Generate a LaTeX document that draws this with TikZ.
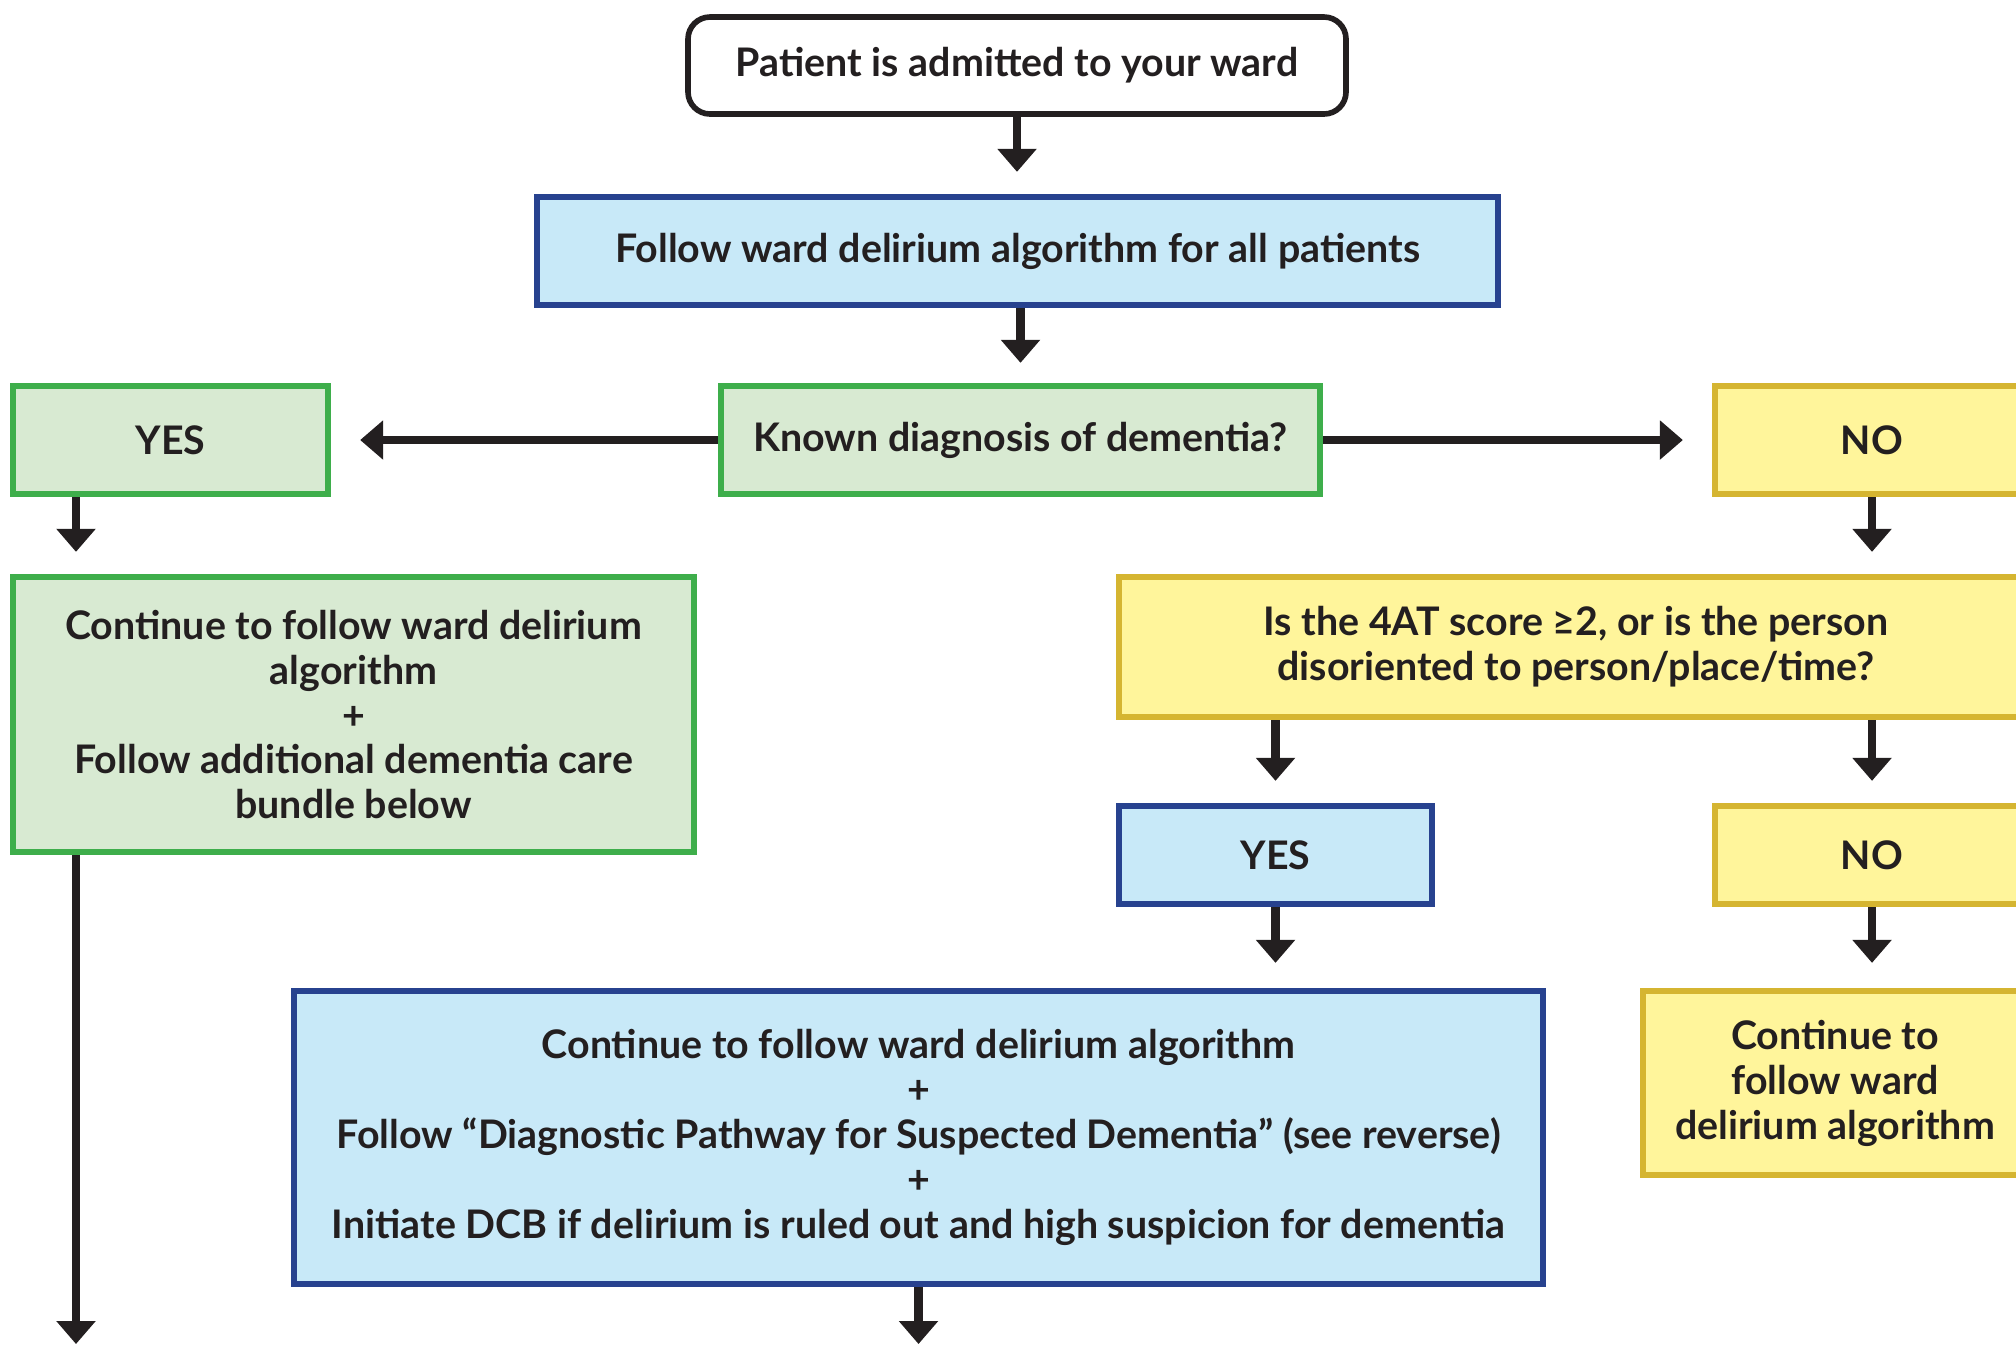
\documentclass[tikz,border=0pt]{standalone}
\usepackage{fontspec}
\setmainfont{Lato}
\usepackage{xcolor}
\definecolor{wardBlue}{HTML}{C8E9F8}
\definecolor{wardBlueLine}{HTML}{27428F}
\definecolor{wardGreen}{HTML}{D8EAD2}
\definecolor{wardGreenLine}{HTML}{3EAE4B}
\definecolor{wardYellow}{HTML}{FFF59B}
\definecolor{wardYellowLine}{HTML}{D5B531}
\definecolor{wardInk}{HTML}{231F20}
\usetikzlibrary{arrows.meta}

\begin{document}
\begin{tikzpicture}[>={Triangle[width=3.8mm,length=2.3mm]},
    every node/.style={font=\bfseries\fontsize{11.2}{12.8}\selectfont, text=wardInk, align=center, inner sep=0pt},
    bluebox/.style={draw=wardBlueLine, fill=wardBlue, line width=1.8pt},
    greenbox/.style={draw=wardGreenLine, fill=wardGreen, line width=1.8pt},
    yellowbox/.style={draw=wardYellowLine, fill=wardYellow, line width=1.8pt},
    flow/.style={->, line width=2.5pt, wardInk, shorten >=0.22cm}]
  \useasboundingbox (0,0) rectangle (20.16,-13.44);
  % helper points
  \coordinate (leftline) at (0.76,0);
  \coordinate (bottom) at (0,-13.44);
  % top of the chart
  \node[draw=wardInk, fill=white, line width=1.6pt, rounded corners=0.22cm,
    minimum width=6.58cm, minimum height=0.97cm] (start) at (10.17,-0.655)
    {Patient is admitted to your ward};
  \node[bluebox, minimum width=9.61cm, minimum height=1.08cm] (algo) at (10.175,-2.51)
    {Follow ward delirium algorithm for all patients};
  \node[greenbox, minimum width=5.99cm, minimum height=1.08cm] (known) at (10.205,-4.40)
    {Known diagnosis of dementia?};
  % dementia known
  \node[greenbox, minimum width=3.15cm, minimum height=1.08cm] (yesdem) at (1.705,-4.40) {YES};
  \node[greenbox, minimum width=6.81cm, minimum height=2.75cm] (bundle) at (3.535,-7.145)
    {Continue to follow ward delirium\\ algorithm\\ +\\ Follow additional dementia care\\ bundle below};
  % dementia not known
  \node[yellowbox, minimum width=3.14cm, minimum height=1.08cm] (nodem) at (18.72,-4.40) {NO};
  \node[yellowbox, minimum width=9.14cm, minimum height=1.40cm] (score) at (15.76,-6.47)
    {Is the 4AT score ≥2, or is the person\\ disoriented to person/place/time?};
  \node[bluebox, minimum width=3.13cm, minimum height=0.98cm] (yesscore) at (12.755,-8.55) {YES};
  \node[yellowbox, minimum width=3.14cm, minimum height=0.98cm] (noscore) at (18.72,-8.55) {NO};
  \node[bluebox, minimum width=12.49cm, minimum height=2.93cm] (pathway) at (9.185,-11.375)
    {Continue to follow ward delirium algorithm\\ +\\ Follow “Diagnostic Pathway for Suspected Dementia” (see reverse)\\ +\\ Initiate DCB if delirium is ruled out and high suspicion for dementia};
  \node[yellowbox, minimum width=3.84cm, minimum height=1.84cm] (carryon) at (18.35,-10.83)
    {Continue to\\ follow ward\\ delirium algorithm};
  % connectors
  \draw[flow] (start.south) -- (algo.north -| start);
  \draw[flow, shorten >=0.2cm] (algo.south -| known) -- (known.north);
  \draw[flow, shorten >=0.29cm] (known.west) -- (yesdem.east);
  \draw[flow, shorten >=0.29cm] (known.east) -- (nodem.west);
  \draw[flow] (yesdem.south -| leftline) -- (bundle.north -| leftline);
  \draw[flow] (nodem.south) -- (score.north -| nodem);
  \draw[flow] (score.south -| yesscore) -- (yesscore.north);
  \draw[flow] (score.south -| noscore) -- (noscore.north);
  \draw[flow, shorten >=0.25cm] (yesscore.south) -- (pathway.north -| yesscore);
  \draw[flow, shorten >=0.25cm] (noscore.south) -- (carryon.north -| noscore);
  \draw[flow, shorten >=0pt] (bundle.south -| leftline) -- (leftline |- bottom);
  \draw[flow, shorten >=0pt] (pathway.south) -- (pathway.south |- bottom);
\end{tikzpicture}
\end{document}
